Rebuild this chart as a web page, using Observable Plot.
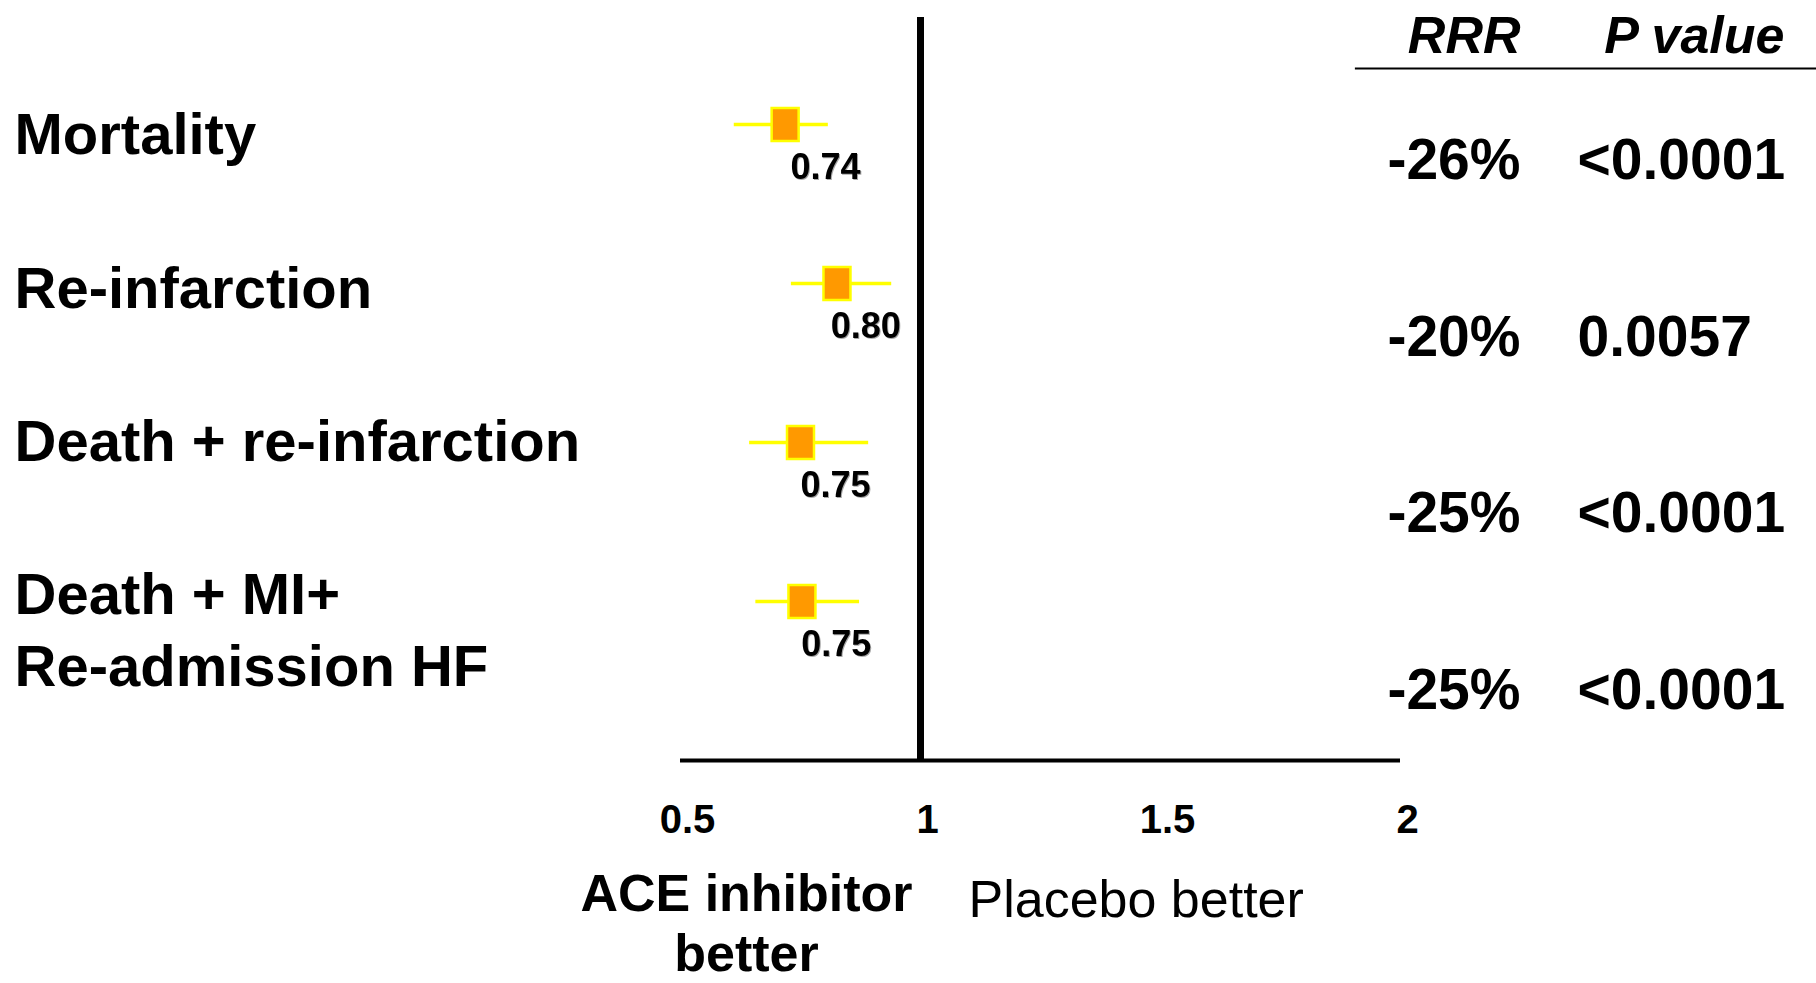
<!DOCTYPE html>
<html>
<head>
<meta charset="utf-8">
<script src="https://cdn.jsdelivr.net/npm/d3@7"></script>
<script src="https://cdn.jsdelivr.net/npm/@observablehq/plot@0.6"></script>
<style>
  html, body { margin: 0; padding: 0; background: #fff; overflow: hidden; }
  #chart svg { display: block; }
  .est-label text { filter: drop-shadow(1.5px 1.5px 0.6px rgba(0,0,0,0.35)); }
</style>
</head>
<body>
<div id="chart"></div>
<script>
// ---- data ----
const outcomes = ["Mortality", "Re-infarction", "Death + re-infarction", "Death + MI+\nRe-admission HF"];
const estimates = [0.718, 0.826, 0.75, 0.753];
const lowerCI = [0.612, 0.731, 0.644, 0.657];
const upperCI = [0.808, 0.940, 0.892, 0.873];
const estimateLabels = ["0.74", "0.80", "0.75", "0.75"];
const rrrValues = ["-26%", "-20%", "-25%", "-25%"];
const pValues = ["<0.0001", "0.0057", "<0.0001", "<0.0001"];
const xTicks = [0.5, 1, 1.5, 2];
const xTickLabels = ["0.5", "1", "1.5", "2"];
const columnHeaders = ["RRR", "P value"];
const favoursLeft = "ACE inhibitor\nbetter";
const favoursRight = "Placebo better";

// ---- layout ----
const W = 1816, H = 983;
const axisRow = 4;            // the x-axis baseline sits one row below the last outcome
const refTop = -0.673;        // top of the reference line (row units)
const tableRow = i => i * 1.11 + 0.09;
const labelRow = i => i * 0.965 - 0.135;
const font = "Liberation Sans, Arial, Helvetica, sans-serif";

const rows = outcomes.map((o, i) => ({
  outcome: o, row: i, est: estimates[i], lo: lowerCI[i], hi: upperCI[i],
  label: estimateLabels[i], labelX: (estimates[i] + +estimateLabels[i]) / 2,
  rrr: rrrValues[i], p: pValues[i], trow: tableRow(i), lrow: labelRow(i)
}));
const ticks = xTicks.map((t, i) => ({t, label: xTickLabels[i]}));

const boxSymbol = {
  draw(context) { context.rect(-13.5, -16.5, 27, 33); }
};

const chart = Plot.plot({
  width: W, height: H,
  marginLeft: 0, marginRight: 0, marginTop: 0, marginBottom: 0,
  style: {fontFamily: font, background: "#fff", color: "#000", overflow: "visible"},
  x: {type: "linear", domain: [0.5, 2], range: [680, 1400], axis: null},
  y: {type: "linear", domain: [-0.78, 5.403], range: [0, H], axis: null},
  marks: [
    // axis baseline
    Plot.ruleY([axisRow], {x1: xTicks[0], x2: xTicks[xTicks.length - 1], stroke: "#000", strokeWidth: 4}),
    // line of no effect
    Plot.ruleX([1], {y1: refTop, y2: axisRow, stroke: "#000", strokeWidth: 7}),
    // tick labels
    Plot.text(ticks, {x: "t", y: 4.377, text: "label", fontSize: 40, fontWeight: "bold", dx: 7, lineAnchor: "middle", fill: "#000"}),
    // confidence intervals
    Plot.ruleY(rows, {y: "row", x1: "lo", x2: "hi", stroke: "#FFFF00", strokeWidth: 3.5}),
    // point estimates
    Plot.dot(rows, {x: "est", y: "row", symbol: boxSymbol, fill: "#FF9900", stroke: "#FFFF00", strokeWidth: 2.5}),
    Plot.text(rows, {x: "labelX", y: "row", text: "label", textAnchor: "start", lineAnchor: "top", dy: 29,
      fontSize: 36, fontWeight: "bold", fill: "#000", className: "est-label"}),
    // outcome labels
    Plot.text(rows, {y: "lrow", text: "outcome", frameAnchor: "left", dx: 14, textAnchor: "start",
      lineAnchor: "top", fontSize: 58, fontWeight: "bold", lineHeight: 1.24, fill: "#000"}),
    // table headers
    Plot.text([columnHeaders[0]], {y: -0.68, text: d => d, frameAnchor: "right", dx: -296, textAnchor: "end",
      lineAnchor: "top", fontSize: 52, fontWeight: "bold", fontStyle: "italic", fill: "#000"}),
    Plot.text([columnHeaders[1]], {y: -0.68, text: d => d, frameAnchor: "right", dx: -32, textAnchor: "end",
      lineAnchor: "top", fontSize: 52, fontWeight: "bold", fontStyle: "italic", fill: "#000"}),
    Plot.ruleY([-0.352], {x1: 1.906, x2: 2.9, stroke: "#000", strokeWidth: 2}),
    // table values
    Plot.text(rows, {y: "trow", text: "rrr", frameAnchor: "right", dx: -296, textAnchor: "end",
      lineAnchor: "top", fontSize: 57, fontWeight: "bold", fill: "#000"}),
    Plot.text(rows, {y: "trow", text: "p", frameAnchor: "right", dx: -239, textAnchor: "start",
      lineAnchor: "top", fontSize: 57, fontWeight: "bold", fill: "#000"}),
    // direction labels
    Plot.text([favoursLeft], {x: 1, y: 4.68, text: d => d, dx: -174, textAnchor: "middle", lineAnchor: "top",
      fontSize: 52, fontWeight: "bold", lineHeight: 1.15, fill: "#000"}),
    Plot.text([favoursRight], {x: 1, y: 4.75, text: d => d, dx: 48, textAnchor: "start", lineAnchor: "top",
      fontSize: 52, fill: "#000"})
  ]
});
document.getElementById("chart").appendChild(chart);
</script>
</body>
</html>
